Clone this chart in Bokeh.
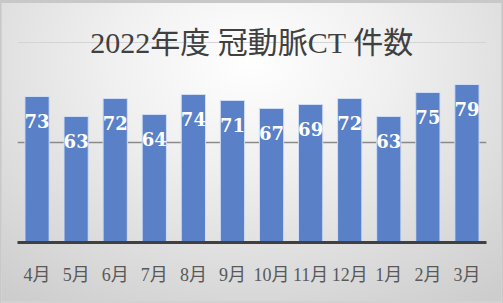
from bokeh.plotting import figure
from bokeh.models import FactorRange, Range1d, FixedTicker, Grid, InlineStyleSheet
from bokeh.core.properties import value
from bokeh.embed import file_html
from bokeh.resources import INLINE

months = ["4月", "5月", "6月", "7月", "8月", "9月", "10月", "11月", "12月", "1月", "2月", "3月"]
counts = [73, 63, 72, 64, 74, 71, 67, 69, 72, 63, 75, 79]
title_text = "2022年度 冠動脈CT 件数"

p = figure(width=503, height=303, output_backend="svg", toolbar_location=None,
           x_range=FactorRange(factors=months, range_padding=0),
           y_range=Range1d(0, 121),
           min_border_left=17, min_border_right=17, min_border_top=0, min_border_bottom=61)

p.border_fill_alpha = 0
p.background_fill_alpha = 0
p.outline_line_color = None
p.stylesheets = [InlineStyleSheet(css=""":host {
  background: radial-gradient(ellipse 80% 100% at 50% 20%, #ffffff 0%, #f0f0f0 35%, #dfdfdf 65%, #cccccc 100%);
  box-shadow: inset 0 2px 0 1px #c8c8c8, inset 0 0 0 2px #d2d2d2;
}""")]

p.yaxis.visible = False
p.xgrid.visible = False
p.ygrid.visible = False
g1 = Grid(dimension=1, ticker=FixedTicker(ticks=[50]), grid_line_color="#8a8a8a", grid_line_width=1.5)
g2 = Grid(dimension=1, ticker=FixedTicker(ticks=[100]), grid_line_color="#d4d4d4", grid_line_width=1)
p.add_layout(g1)
p.add_layout(g2)

p.vbar(x=months, top=counts, width=0.62, bottom=0,
       fill_color="#5a80c8", line_color="#d0def5", line_width=1)

label_y = [c - 12 for c in counts]
p.text(x=months, y=label_y, text=[str(c) for c in counts],
       text_color="white", text_font=value("DejaVu Serif"), text_font_style="bold",
       text_font_size="18px", text_align="center", text_baseline="middle")

p.text(x=[6.0], y=[100], text=[title_text],
       text_color="#404040", text_font=value("Liberation Serif, Noto Sans CJK JP"),
       text_font_size="30px", text_align="center", text_baseline="middle")

ax = p.xaxis[0]
ax.axis_line_color = "#404040"
ax.axis_line_width = 3
ax.major_tick_line_color = None
ax.minor_tick_line_color = None
ax.major_label_text_font = "Liberation Serif, Noto Sans CJK JP"
ax.major_label_text_font_size = "18px"
ax.major_label_text_color = "#595959"
ax.major_label_standoff = 16

open("out.html", "w").write(file_html(p, INLINE))
